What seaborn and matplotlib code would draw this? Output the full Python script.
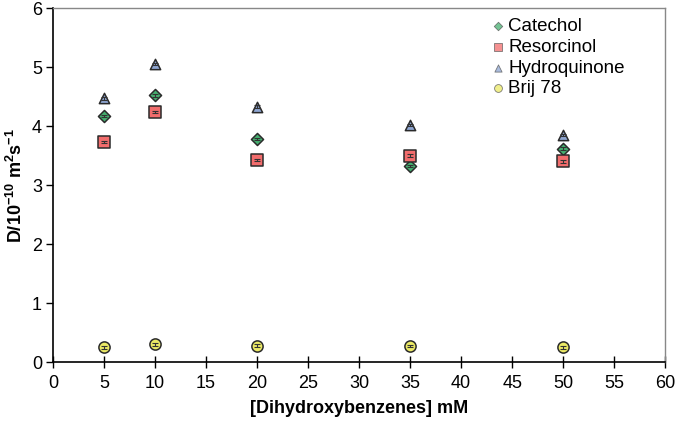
import matplotlib
matplotlib.use("Agg")
import matplotlib.pyplot as plt
import seaborn as sns
import pandas as pd
import numpy as np

# Data
conc = [5, 10, 20, 35, 50]
catechol = [4.17, 4.52, 3.78, 3.32, 3.62]
resorcinol = [3.73, 4.24, 3.43, 3.50, 3.40]
hydroquinone = [4.47, 5.05, 4.33, 4.02, 3.85]
brij = [0.25, 0.30, 0.28, 0.27, 0.25]
err = [0.02, 0.02, 0.02, 0.02, 0.02]

series = ["Catechol", "Resorcinol", "Hydroquinone", "Brij 78"]
values = [catechol, resorcinol, hydroquinone, brij]

df = pd.DataFrame({
    "conc": conc * 4,
    "D": sum(values, []),
    "series": np.repeat(series, len(conc)),
})

sns.set_style("ticks")
plt.rcParams["font.family"] = ["Liberation Sans", "DejaVu Sans"]
plt.rcParams["mathtext.default"] = "regular"
plt.rcParams["xtick.color"] = "black"
plt.rcParams["ytick.color"] = "black"
plt.rcParams["axes.labelcolor"] = "black"
plt.rcParams["text.color"] = "black"

fig = plt.figure(figsize=(6.75, 4.25), dpi=100)
ax = fig.add_axes([0.0785, 0.148, 0.907, 0.833])

markers = {"Catechol": "D", "Resorcinol": "s", "Hydroquinone": "^", "Brij 78": "o"}
colors = {"Catechol": "#45b070", "Resorcinol": "#f26d6d",
          "Hydroquinone": "#8ea6d2", "Brij 78": "#ecea66"}
sizes = {"Catechol": 38, "Resorcinol": 70, "Hydroquinone": 55, "Brij 78": 65}

for name in series:
    sns.scatterplot(data=df[df["series"] == name], x="conc", y="D",
                    marker=markers[name], color=colors[name], s=sizes[name],
                    edgecolor="#2a2a2a", linewidth=1.1, label=name, ax=ax, zorder=2)

# tiny error bars drawn over the markers
for name, vals in zip(series, values):
    ax.errorbar(conc, vals, yerr=err, fmt="none", ecolor="#333333",
                elinewidth=0.8, capsize=2, capthick=0.8, zorder=3)

ax.set_xlim(0, 60)
ax.set_ylim(0, 6)
ax.set_xticks(range(0, 61, 5))
ax.set_yticks(range(0, 7))
ax.tick_params(axis="x", direction="inout", length=8, width=1, labelsize=13, pad=5)
ax.tick_params(axis="y", direction="out", length=5, width=1, labelsize=13, pad=3)

for side in ["left", "bottom"]:
    ax.spines[side].set_visible(True)
    ax.spines[side].set_color("black")
    ax.spines[side].set_linewidth(1.2)
for side in ["top", "right"]:
    ax.spines[side].set_visible(True)
    ax.spines[side].set_color("#888888")
    ax.spines[side].set_linewidth(1.0)

ax.set_xlabel("[Dihydroxybenzenes] mM", fontsize=13, fontweight="bold", labelpad=6)
ax.set_ylabel(r"D/10$^{-10}$ m$^{2}$s$^{-1}$", fontsize=13, fontweight="bold", labelpad=4)

# legend without frame, light small markers like the original
handles, labels = ax.get_legend_handles_labels()
leg = ax.legend(handles, labels, loc="upper right", bbox_to_anchor=(0.955, 1.01),
                frameon=False, fontsize=13.5, handletextpad=0.0, labelspacing=0.2,
                markerscale=0.7, borderaxespad=0.3, handlelength=1.1)
for h in leg.legend_handles:
    h.set_linewidth(0.6)
    h.set_edgecolor("#555555")
    h.set_alpha(0.75)

fig.savefig("out.png", dpi=100)
